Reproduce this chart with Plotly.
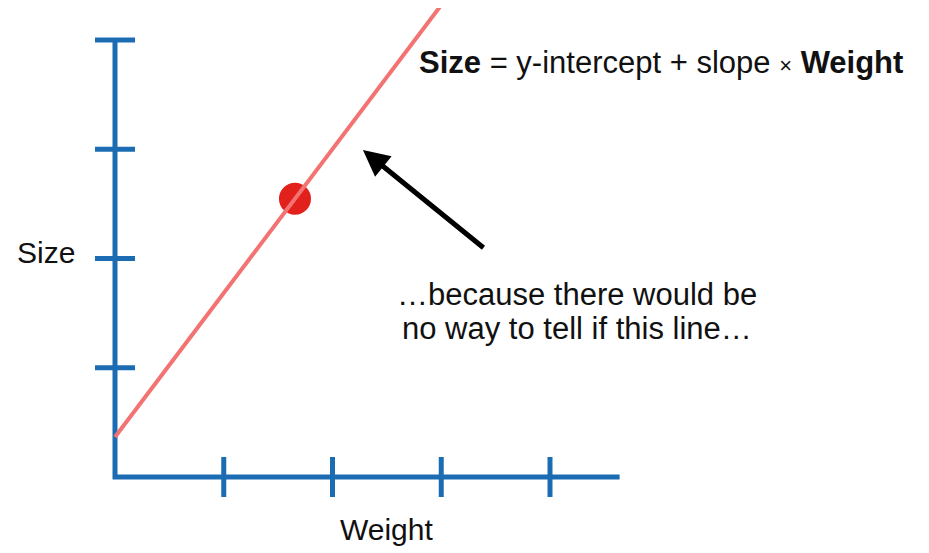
import plotly.graph_objects as go

# Data (abstract units: one tick = 1)
x_ticks = [1, 2, 3, 4]
y_ticks = [1, 2, 3, 4]
x_axis_end = 4.64
y_axis_end = 4.0
line_intercept = 0.366
line_slope = 1.318
line_x = [0, 3.6]
point_x = [1.655]
point_y = [line_intercept + line_slope * 1.655]
arrow_tail = (3.402, 2.087)
arrow_head = (2.280, 2.993)

BLUE = "#1b6cb2"
RED_LINE = "#f37272"
RED_PT = "#e2211c"
FONT = "Liberation Sans"
FS = 30
FS_BODY = 31

W, H = 929, 553
OFF = 8  # page body margin
px_x = 108.75
px_y = 109.25
x0_px, y0_px = 115 - OFF, 477 - OFF

xr = [-x0_px / px_x, (W - x0_px) / px_x]
yr = [-(H - y0_px) / px_y, y0_px / px_y]


def dx(p):
    return (p - OFF - x0_px) / px_x


def dy(p):
    return (y0_px - (p - OFF)) / px_y


tx = 20 / px_x
ty = 20 / px_y

fig = go.Figure()

fig.add_trace(go.Scatter(x=[0, 0, x_axis_end], y=[y_axis_end, 0, 0], mode="lines",
                         line=dict(color=BLUE, width=5), hoverinfo="skip"))
tx_x, tx_y = [], []
for t in x_ticks:
    tx_x += [t, t, None]
    tx_y += [-ty, ty, None]
fig.add_trace(go.Scatter(x=tx_x, y=tx_y, mode="lines", line=dict(color=BLUE, width=5), hoverinfo="skip"))
ty_x, ty_y = [], []
for t in y_ticks:
    ty_x += [-tx, tx, None]
    ty_y += [t, t, None]
fig.add_trace(go.Scatter(x=ty_x, y=ty_y, mode="lines", line=dict(color=BLUE, width=5), hoverinfo="skip"))

fig.add_trace(go.Scatter(x=point_x, y=point_y, mode="markers",
                         marker=dict(color=RED_PT, size=32, line=dict(width=0)), hoverinfo="skip"))
fig.add_trace(go.Scatter(x=line_x, y=[line_intercept + line_slope * v for v in line_x], mode="lines",
                         line=dict(color=RED_LINE, width=4), hoverinfo="skip"))

txt = dict(size=FS, color="#111111", family=FONT)
body = dict(size=FS_BODY, color="#111111", family=FONT)
annotations = [
    dict(x=dx(46), y=dy(252), text="Size", showarrow=False, font=txt, xanchor="center", yanchor="middle"),
    dict(x=dx(386), y=dy(529), text="Weight", showarrow=False, font=txt, xanchor="center", yanchor="middle"),
    dict(x=dx(905), y=dy(62),
         text="<b>Size</b> = y-intercept + slope <span style='font-size:22px'>×</span> <b>Weight</b>",
         showarrow=False, font=body, xanchor="right", yanchor="middle"),
    dict(x=dx(577), y=dy(294), text="…because there would be", showarrow=False, font=body,
         xanchor="center", yanchor="middle"),
    dict(x=dx(577), y=dy(328), text="no way to tell if this line…", showarrow=False, font=body,
         xanchor="center", yanchor="middle"),
    dict(x=arrow_head[0], y=arrow_head[1], ax=arrow_tail[0], ay=arrow_tail[1],
         xref="x", yref="y", axref="x", ayref="y", text="", showarrow=True,
         arrowhead=2, arrowsize=1.05, arrowwidth=5, arrowcolor="black"),
]

fig.update_layout(
    width=W, height=H, margin=dict(l=0, r=0, t=0, b=0),
    paper_bgcolor="white", plot_bgcolor="white", showlegend=False,
    xaxis=dict(range=xr, visible=False, fixedrange=True),
    yaxis=dict(range=yr, visible=False, fixedrange=True),
    annotations=annotations,
)

fig.write_html("out.html")
